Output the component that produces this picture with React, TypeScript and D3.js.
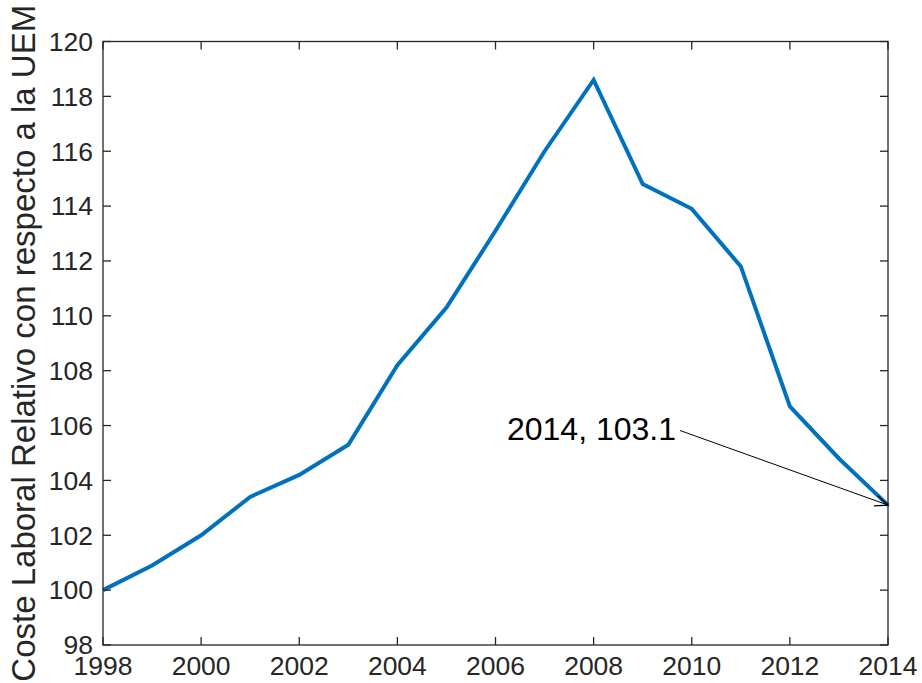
import React from "react";
import * as d3 from "d3";

const years = [1998, 1999, 2000, 2001, 2002, 2003, 2004, 2005, 2006, 2007, 2008, 2009, 2010, 2011, 2012, 2013, 2014];
const values = [100.0, 100.9, 102.0, 103.4, 104.2, 105.3, 108.2, 110.3, 113.1, 116.0, 118.6, 114.8, 113.9, 111.8, 106.7, 104.8, 103.1];
const xTicks = [1998, 2000, 2002, 2004, 2006, 2008, 2010, 2012, 2014];
const yTicks = [98, 100, 102, 104, 106, 108, 110, 112, 114, 116, 118, 120];
const yLabel = "Coste Laboral Relativo con respecto a la UEM";
const annotationText = "2014, 103.1";
const annotationYear = 2014;
const annotationValue = 103.1;

const W = 922;
const H = 683;
const L = 103, R = 888, T = 41.5, B = 645;
const FONT = "'Liberation Sans', Arial, Helvetica, sans-serif";
const AX = "#262626";

export default function App() {
  const x = d3.scaleLinear().domain([1998, 2014]).range([L, R]);
  const y = d3.scaleLinear().domain([98, 120]).range([B, T]);
  const line = d3.line<number>().x((_, i) => x(years[i])).y((d) => y(d));
  const tl = 8;

  const ax = x(annotationYear), ay = y(annotationValue);
  const sx = 680, sy = 430.5;
  const ang = Math.atan2(ay - sy, ax - sx);
  const hl = 14, hw = 0.4;
  const p1 = [ax - hl * Math.cos(ang - hw), ay - hl * Math.sin(ang - hw)];
  const p2 = [ax - hl * Math.cos(ang + hw), ay - hl * Math.sin(ang + hw)];

  return (
    <svg width={W} height={H} style={{ position: "absolute", left: 0, top: 0, background: "#fff" }} fontFamily={FONT}>
      <rect x={0} y={0} width={W} height={H} fill="#fff" />
      <path d={line(values) || ""} fill="none" stroke="#0072BD" strokeWidth={4} strokeLinejoin="miter" />
      <rect x={L} y={T} width={R - L} height={B - T} fill="none" stroke={AX} strokeWidth={1.3} />
      {xTicks.map((t) => (
        <g key={"x" + t}>
          <line x1={x(t)} x2={x(t)} y1={B} y2={B - tl} stroke={AX} strokeWidth={1.3} />
          <line x1={x(t)} x2={x(t)} y1={T} y2={T + tl} stroke={AX} strokeWidth={1.3} />
          <text x={x(t)} y={675} textAnchor="middle" fontSize={26.5} fill={AX}>{t}</text>
        </g>
      ))}
      {yTicks.map((t) => (
        <g key={"y" + t}>
          <line x1={L} x2={L + tl} y1={y(t)} y2={y(t)} stroke={AX} strokeWidth={1.3} />
          <line x1={R} x2={R - tl} y1={y(t)} y2={y(t)} stroke={AX} strokeWidth={1.3} />
          <text x={93} y={y(t)} dy="0.35em" textAnchor="end" fontSize={26.5} fill={AX}>{t}</text>
        </g>
      ))}
      <text transform={`translate(35,${(T + B) / 2}) rotate(-90)`} textAnchor="middle" fontSize={33} fill={AX}>{yLabel}</text>
      <line x1={sx} y1={sy} x2={ax} y2={ay} stroke="#000" strokeWidth={1} />
      <polyline points={`${p1[0]},${p1[1]} ${ax},${ay} ${p2[0]},${p2[1]}`} fill="none" stroke="#000" strokeWidth={1.3} />
      <text x={676} y={440} textAnchor="end" fontSize={32} fill="#000">{annotationText}</text>
    </svg>
  );
}
